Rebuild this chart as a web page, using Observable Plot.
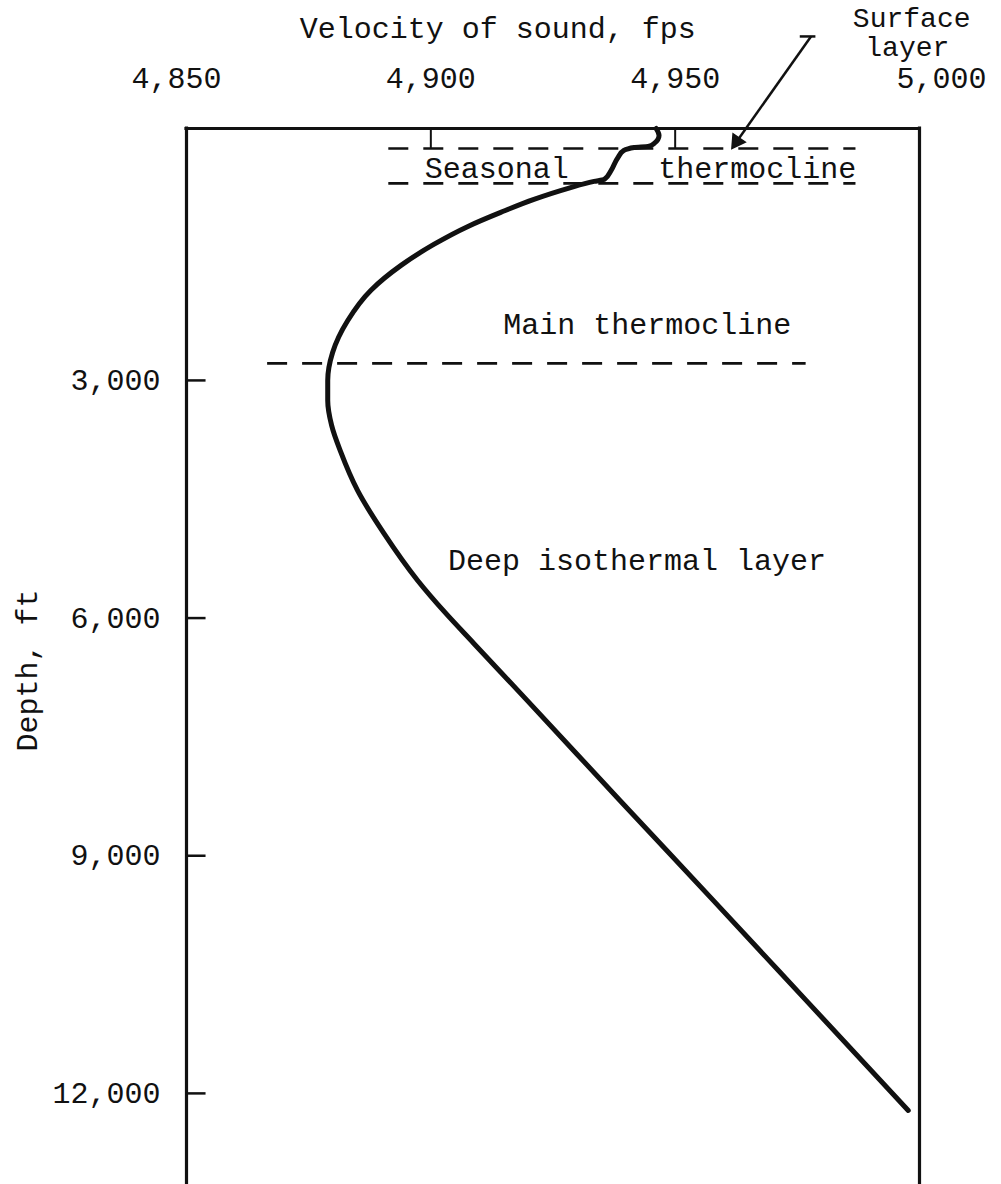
<!DOCTYPE html>
<html>
<head>
<meta charset="utf-8">
<script src="https://cdn.jsdelivr.net/npm/d3@7"></script>
<script src="https://cdn.jsdelivr.net/npm/@observablehq/plot@0.6"></script>
<style>
  html, body { margin: 0; padding: 0; background: #fff; }
  #chart svg { display: block; }
</style>
</head>
<body>
<div id="chart"></div>
<script>
// ---------- data ----------
const xDomain = [4850, 5000];          // velocity of sound, fps
const yDomain = [-180, 13150];         // depth, ft (frame top to page bottom)
const velocityTicks = [4850, 4900, 4950, 5000];
const depthTicks = [3000, 6000, 9000, 12000];

// sound-velocity profile
const profileVelocity = [4946.1, 4946.7, 4945.7, 4944.5, 4941.6, 4939.5, 4938.3, 4936.9, 4935.5, 4933.4,
  4928.1, 4921.1, 4914.3, 4907.6, 4900.6, 4893.9, 4887.7, 4883.0, 4879.9, 4878.9,
  4878.9, 4879.7, 4881.6, 4885.0, 4890.4, 4897.3, 4902.9, 4908.8, 4919.7, 4938.7,
  4957.8, 4976.8, 4997.7];
const profileDepth = [-180, -93, 8, 46, 59, 97, 185, 349, 463, 488,
  576, 715, 879, 1056, 1283, 1548, 1864, 2243, 2647, 3000,
  3252, 3568, 3909, 4389, 4931, 5525, 5929, 6320, 7039, 8302,
  9564, 10826, 12215];

// layer boundaries (dashed)
const boundaryDepth = [72, 513, 2785];
const boundaryFrom = [4891.4, 4891.4, 4866.6];
const boundaryTo = [4987.0, 4987.0, 4976.8];

// labels inside the frame
const labelText = ["Seasonal", "thermocline", "Main thermocline", "Deep isothermal layer"];
const labelVelocity = [4913.5, 4966.8, 4944.3, 4942.2];
const labelDepth = [318, 318, 2293, 5272];

// labels outside the frame
const titleText = "Velocity of sound, fps";
const titleVelocity = 4913.7;
const titleDepth = -1443;
const surfaceText = ["Surface", "layer"];
const surfaceVelocity = [4998.4, 4997.5];
const surfaceDepth = [-1570, -1203];

const tickLabelDepth = -812;
const yTitle = "Depth, ft";
const yTitleVelocity = 4817.4;
const yTitleDepth = 6661;

// pointer from "Surface layer"
const pointerVelocity = [4977.8, 4962.6];
const pointerDepth = [-1342, -16];
const hookVelocity = [4975.6, 4978.8];
const pointerTipVelocity = [4962.6];
const pointerTipDepth = [-16];

const xTickEndDepth = 72;
const yTickLength = 4; // in fps units

// ---------- tables ----------
const profile = profileVelocity.map((v, i) => ({v, d: profileDepth[i]}));
const boundaries = boundaryDepth.map((d, i) => ({d, x1: boundaryFrom[i], x2: boundaryTo[i]}));
const labels = labelText.map((t, i) => ({t, v: labelVelocity[i], d: labelDepth[i]}));
const surface = surfaceText.map((t, i) => ({t, v: surfaceVelocity[i], d: surfaceDepth[i]}));
const tip = pointerTipVelocity.map((v, i) => ({v, d: pointerTipDepth[i]}));
const fmt = d3.format(",");
const FONT = "'Liberation Mono', 'Courier New', monospace";
const INK = "#111";
const txt = {fontSize: 30, fontFamily: FONT, fill: INK};

const chart = Plot.plot({
  width: 1001,
  height: 1184,
  marginTop: 128,
  marginBottom: 0,
  marginLeft: 186,
  marginRight: 82,
  style: {background: "#fff", color: INK, fontFamily: FONT, fontSize: "30px", overflow: "visible"},
  x: {domain: xDomain, axis: null},
  y: {domain: yDomain, reverse: true, axis: null},
  marks: [
    // frame (top, left, right)
    Plot.ruleY([yDomain[0]], {x1: xDomain[0], x2: xDomain[1], stroke: INK, strokeWidth: 3.2, strokeLinecap: "square"}),
    Plot.ruleX(xDomain, {y1: yDomain[0], y2: yDomain[1], stroke: INK, strokeWidth: 3.2, strokeLinecap: "square"}),
    // inward ticks
    Plot.ruleX(velocityTicks.slice(1, 3), {y1: yDomain[0], y2: xTickEndDepth, stroke: INK, strokeWidth: 2}),
    Plot.ruleY(depthTicks, {x1: xDomain[0], x2: xDomain[0] + yTickLength, stroke: INK, strokeWidth: 2.5}),
    // tick labels (end labels typed slightly off the frame corners)
    Plot.text(velocityTicks.slice(0, 1), {x: d => d, y: () => tickLabelDepth, text: d => fmt(d), dx: -10, ...txt}),
    Plot.text(velocityTicks.slice(1, 3), {x: d => d, y: () => tickLabelDepth, text: d => fmt(d), ...txt}),
    Plot.text(velocityTicks.slice(3), {x: d => d, y: () => tickLabelDepth, text: d => fmt(d), dx: 22, ...txt}),
    Plot.text(depthTicks, {x: () => xDomain[0], y: d => d, text: d => fmt(d), dx: -26, textAnchor: "end", ...txt}),
    // axis titles & outer labels
    Plot.text([titleText], {x: () => titleVelocity, y: () => titleDepth, text: d => d, ...txt}),
    Plot.text(surface, {x: "v", y: "d", text: "t", ...txt, fontSize: 28}),
    Plot.text([yTitle], {x: () => yTitleVelocity, y: () => yTitleDepth, text: d => d, rotate: -90, ...txt}),
    // layer boundaries
    Plot.ruleY(boundaries, {y: "d", x1: "x1", x2: "x2", stroke: INK, strokeWidth: 2.6, strokeDasharray: "20,15"}),
    // layer labels
    Plot.text(labels, {x: "v", y: "d", text: "t", ...txt}),
    // pointer
    Plot.ruleY([pointerDepth[0]], {x1: hookVelocity[0], x2: hookVelocity[1], stroke: INK, strokeWidth: 2.5}),
    Plot.link([0], {x1: () => pointerVelocity[0], y1: () => pointerDepth[0], x2: () => pointerVelocity[1], y2: () => pointerDepth[1], stroke: INK, strokeWidth: 2.5}),
    Plot.dot(tip, {x: "v", y: "d", symbol: "triangle", r: 5.5, fill: INK, stroke: INK, rotate: 214.6}),
    // profile curve
    Plot.line(profile, {x: "v", y: "d", curve: "monotone-y", stroke: INK, strokeWidth: 5, strokeLinecap: "round", strokeLinejoin: "round"})
  ]
});
document.getElementById("chart").appendChild(chart);
</script>
</body>
</html>
